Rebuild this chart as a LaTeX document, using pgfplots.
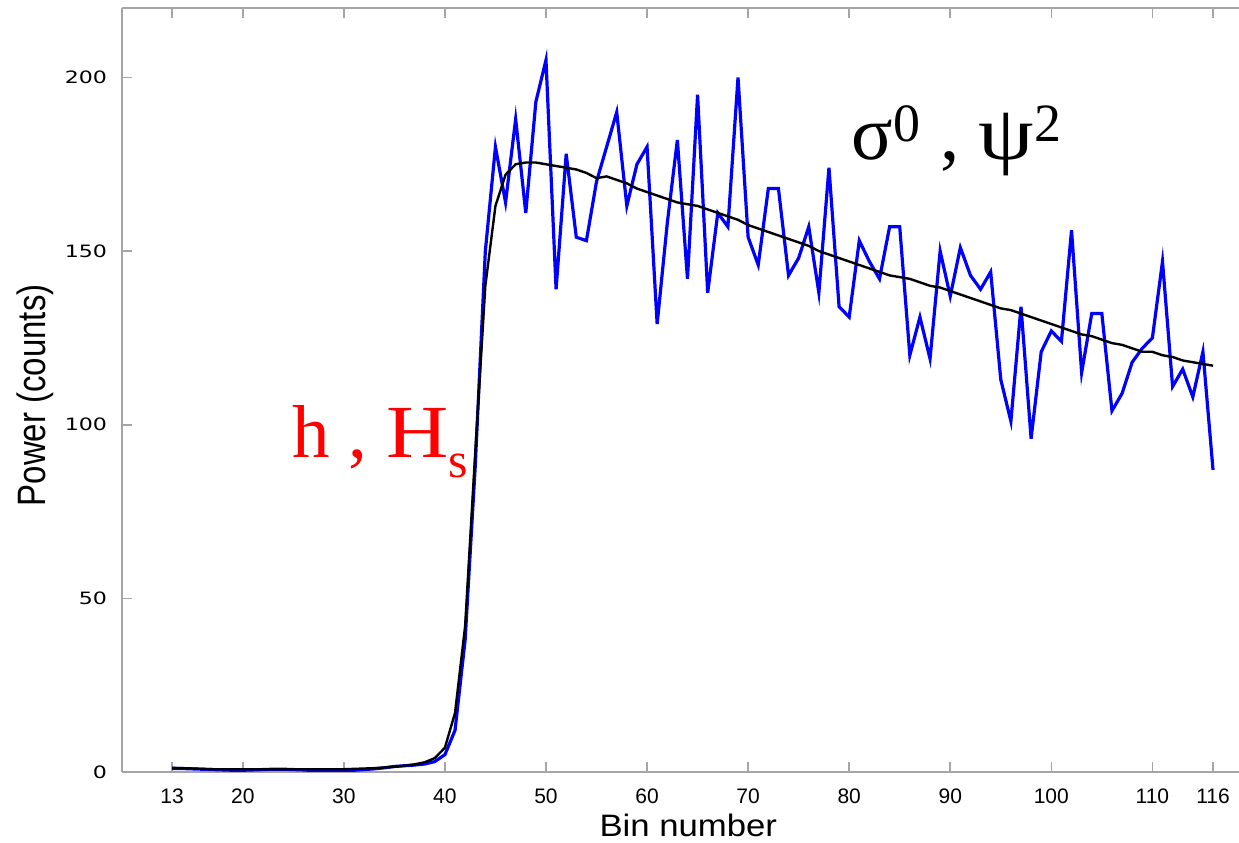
\documentclass[border=0pt]{standalone}
\usepackage{pgfplots}
\pgfplotsset{compat=1.18}
\usepackage{fontspec}
\setmainfont{Liberation Sans}
\newfontfamily\dejavu{DejaVu Sans}
\newfontfamily\serif{Liberation Serif}
\usepackage{graphicx}
\definecolor{axgray}{RGB}{165,165,165}
\begin{document}
\begin{tikzpicture}
\path[use as bounding box] (-61bp,-35.5bp) rectangle (558.5bp,386bp);
\begin{axis}[at={(0,0)}, anchor=south west, scale only axis,
  width=558.5bp, height=382bp,
  xmin=8.05, xmax=118.57, ymin=0, ymax=220,
  axis x line=box, axis y line*=left,
  axis line style={-, draw=axgray, line width=1bp},
  tick style={axgray, line width=0.8bp},
  major tick length=5bp,
  xtick={13,20,30,40,50,60,70,80,90,100,110,116},
  ytick={0,50,100,150,200},
  xtick pos=both, ytick pos=left,
  /pgf/number format/assume math mode=true,
  xticklabel style={font=\fontsize{10.5bp}{12bp}\selectfont, yshift=-5bp},
  yticklabel={\scalebox{1.3}[1]{\pgfmathprintnumber{\tick}}},
  yticklabel style={font=\dejavu\fontsize{8.5bp}{10bp}\selectfont, xshift=-4bp},
  xlabel={\scalebox{1.12}[1]{Bin number}},
  xlabel style={at={(axis description cs:0.507,0)}, anchor=center, yshift=-26.5bp, font=\fontsize{15.5bp}{17bp}\selectfont},
  ylabel={\scalebox{1}[1.2]{Power (counts)}},
  ylabel style={at={(axis description cs:-0.078,0.493)}, anchor=center, font=\fontsize{16.5bp}{18bp}\selectfont},
]
\addplot[blue, line width=1.6bp] coordinates {
(13,1.0)(14,1.0)(15,0.9)(16,0.8)(17,0.7)(18,0.6)(19,0.5)(20,0.5)(21,0.6)(22,0.7)
(23,0.8)(24,0.8)(25,0.7)(26,0.6)(27,0.4)(28,0.2)(29,0.2)(30,0.3)(31,0.5)(32,0.7)
(33,0.9)(34,1.2)(35,1.6)(36,1.8)(37,2.0)(38,2.3)(39,3.0)(40,5.0)(41,12)(42,38)
(43,88)(44,150)(45,180)(46,164)(47,188)(48,161)(49,193)(50,205)(51,139)(52,178)
(53,154)(54,153)(55,170)(56,180)(57,190)(58,163)(59,175)(60,180)(61,129)(62,158)
(63,182)(64,142)(65,195)(66,138)(67,161)(68,157)(69,200)(70,154)(71,146)(72,168)
(73,168)(74,143)(75,148)(76,157)(77,138)(78,174)(79,134)(80,131)(81,153)(82,147)
(83,142)(84,157)(85,157)(86,120)(87,131)(88,119)(89,150)(90,137)(91,151)(92,143)
(93,139)(94,144)(95,113)(96,101)(97,134)(98,96)(99,121)(100,127)(101,124)(102,156)
(103,115)(104,132)(105,132)(106,104)(107,109)(108,118)(109,122)(110,125)(111,147)(112,111)
(113,116)(114,108)(115,121)(116,87)
};
\addplot[black, line width=1.2bp] coordinates {
(13,1.2)(14,1.1)(15,1.0)(16,0.9)(17,0.8)(18,0.8)(19,0.8)(20,0.8)(21,0.8)(22,0.8)
(23,0.8)(24,0.8)(25,0.8)(26,0.8)(27,0.8)(28,0.8)(29,0.8)(30,0.8)(31,0.9)(32,1.0)
(33,1.1)(34,1.3)(35,1.5)(36,1.8)(37,2.2)(38,2.8)(39,4)(40,7)(41,17)(42,42)
(43,92)(44,140)(45,163)(46,172)(47,175)(48,175.5)(49,175.5)(50,175)(51,174.5)(52,174)
(53,173.5)(54,172.5)(55,171)(56,171.5)(57,170.5)(58,169.5)(59,168)(60,167)(61,166)(62,165)
(63,164)(64,163.5)(65,163)(66,162)(67,161)(68,160)(69,159)(70,157.5)(71,156.5)(72,155.5)
(73,154.5)(74,153.5)(75,152.5)(76,151.5)(77,150)(78,149)(79,148)(80,147)(81,146)(82,145)
(83,144)(84,143)(85,142.5)(86,142)(87,141)(88,140)(89,139.5)(90,138.5)(91,137.5)(92,136.5)
(93,135.5)(94,134.5)(95,133.5)(96,133)(97,132)(98,131)(99,130)(100,129)(101,128)(102,127)
(103,126)(104,125.5)(105,124.5)(106,123.5)(107,123)(108,122)(109,121)(110,121)(111,120)(112,119.5)
(113,118.5)(114,118)(115,117.5)(116,117)
};
\node[anchor=base west, text=red, inner sep=0, font=\serif\fontsize{37.5bp}{40bp}\selectfont] at (axis cs:24.9,90.6) {h , \scalebox{1.15}[1]{H}\raisebox{-10bp}{\fontsize{25bp}{25bp}\selectfont s}};
\node[anchor=base west, text=black, inner sep=0, font=\serif\fontsize{38.5bp}{40bp}\selectfont] at (axis cs:80.2,176.5) {σ\textsuperscript{0} , \scalebox{1.15}[1]{ψ}\textsuperscript{2}};
\end{axis}
\end{tikzpicture}
\end{document}
